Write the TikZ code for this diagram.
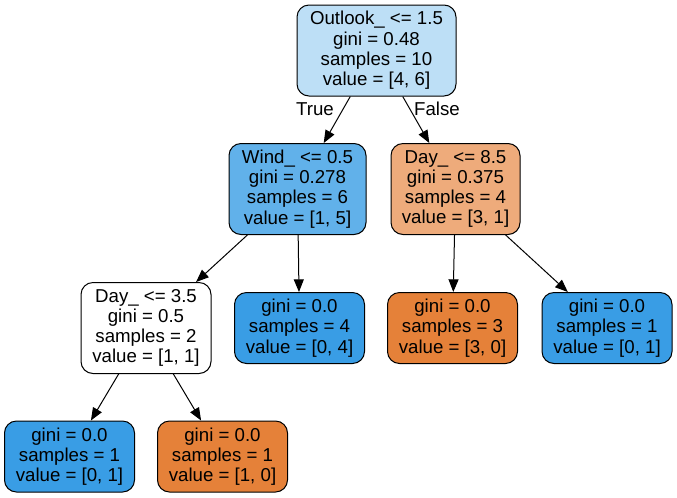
\documentclass[tikz,border=0pt]{standalone}
\usepackage{fontspec}
\setmainfont{Liberation Sans}
\usetikzlibrary{arrows.meta}
\definecolor{leafblue}{RGB}{57,157,229}
\definecolor{leaforange}{RGB}{229,129,57}
\definecolor{paleblue}{RGB}{189,223,246}
\definecolor{midblue}{RGB}{97,177,234}
\definecolor{midorange}{RGB}{238,171,123}
\tikzset{
  split/.style={rectangle, draw=black, line width=0.75pt, rounded corners=9pt,
    align=center, inner sep=0pt, minimum height=68.25pt,
    font=\fontsize{14}{15.2}\selectfont},
  leaf/.style={split, minimum height=53.25pt, minimum width=97.5pt},
  edge/.style={-{Triangle[length=9.5pt, width=7.5pt]}, line width=0.75pt, color=black},
  branch/.style={font=\fontsize{14}{15.2}\selectfont}
}

\begin{document}
\begin{tikzpicture}[x=0.75pt, y=-0.75pt]
  \useasboundingbox (0,0) rectangle (677,497);

  % Decision nodes
  \node[split, fill=paleblue, minimum width=119.25pt] (root) at (376.5,50.5)
    {Outlook\_ <= 1.5\\gini = 0.48\\samples = 10\\value = [4, 6]};
  \node[split, fill=midblue, minimum width=102.75pt] (wind) at (297.5,189)
    {Wind\_ <= 0.5\\gini = 0.278\\samples = 6\\value = [1, 5]};
  \node[split, fill=midorange, minimum width=96.75pt] (dayhi) at (455.5,189)
    {Day\_ <= 8.5\\gini = 0.375\\samples = 4\\value = [3, 1]};
  \node[split, fill=white, minimum width=97.5pt] (daylo) at (146,328)
    {Day\_ <= 3.5\\gini = 0.5\\samples = 2\\value = [1, 1]};

  % Leaves
  \node[leaf, fill=leafblue] (leafa) at (299.5,328)
    {gini = 0.0\\samples = 4\\value = [0, 4]};
  \node[leaf, fill=leaforange] (leafb) at (452.5,328)
    {gini = 0.0\\samples = 3\\value = [3, 0]};
  \node[leaf, fill=leafblue] (leafc) at (607,328)
    {gini = 0.0\\samples = 1\\value = [0, 1]};
  \node[leaf, fill=leafblue] (leafd) at (69.5,456.5)
    {gini = 0.0\\samples = 1\\value = [0, 1]};
  \node[leaf, fill=leaforange] (leafe) at (222.5,456.5)
    {gini = 0.0\\samples = 1\\value = [1, 0]};

  % Edges
  \draw[edge] (root) -- (wind);
  \draw[edge] (root) -- (dayhi);
  \draw[edge] (wind) -- (daylo);
  \draw[edge] (wind) -- (leafa);
  \draw[edge] (dayhi) -- (leafb);
  \draw[edge] (dayhi) -- (leafc);
  \draw[edge] (daylo) -- (leafd);
  \draw[edge] (daylo) -- (leafe);

  % Branch labels
  \node[branch] (truelbl) at (315,109) {True};
  \node[branch] (falselbl) at (437,109) {False};
\end{tikzpicture}
\end{document}
